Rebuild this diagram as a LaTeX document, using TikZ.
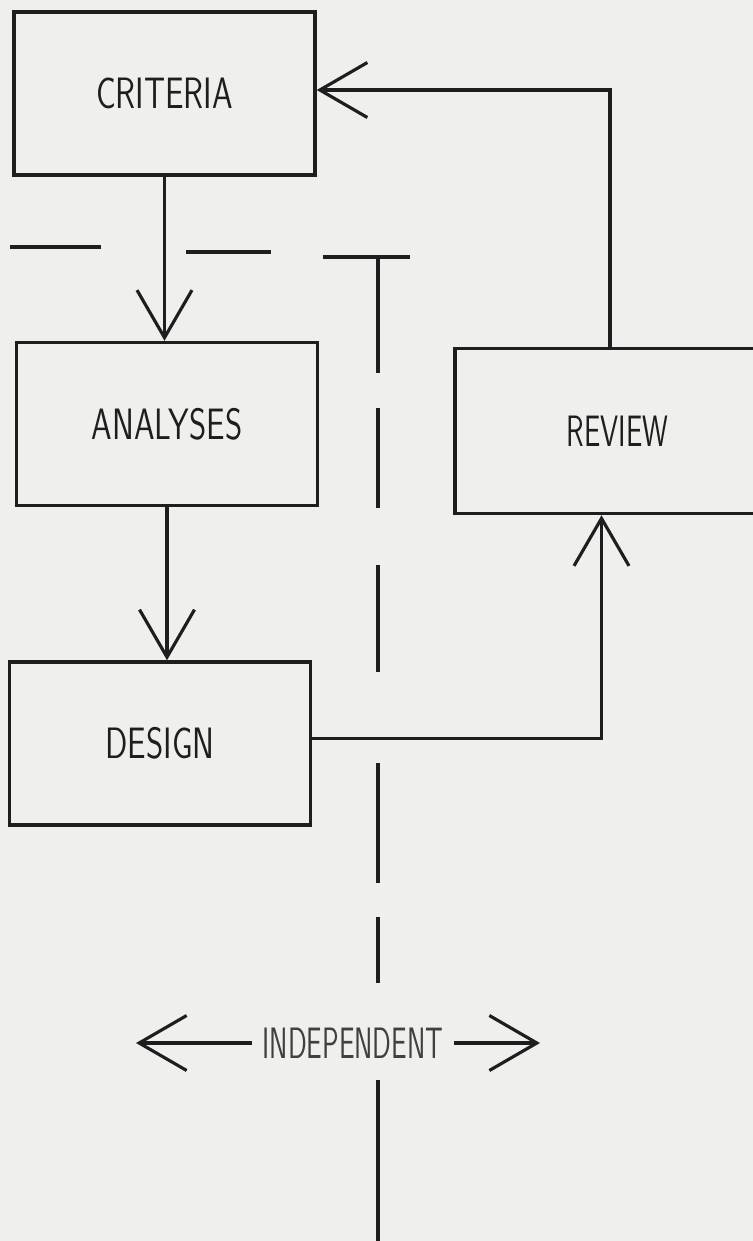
\documentclass[tikz,border=0pt]{standalone}
\usepackage{fontspec}
\usepackage{graphicx}
\usepackage{tikz}
\usetikzlibrary{arrows.meta}
\definecolor{paper}{HTML}{EFEFED}
\definecolor{ink}{HTML}{1E1E1E}
\newcommand{\squeeze}[2][0.75]{\scalebox{#1}[1]{#2}}

\begin{document}
\begin{tikzpicture}[x=0.02cm,y=-0.02cm,
    box/.style={draw=ink,line width=2pt,minimum width=6.02cm,minimum height=3.26cm,inner sep=0pt,
      font=\sffamily\fontsize{25}{28}\selectfont,text=ink},
    vee/.style={-{Straight Barb[length=0.95cm,width=1.1cm]}},
    wire/.style={draw=ink,line width=1.8pt}]
      \clip (0,0) rectangle (753,1241);
      \fill[paper] (0,0) rectangle (753,1241);
      % the four boxes
      \node[box] (criteria) at (164.5,93.5) {\squeeze{CRITERIA}};
      \node[box] (analyses) at (167,424) {\squeeze{ANALYSES}};
      \node[box] (design) at (160,743.5) {\squeeze{DESIGN}};
      \node[box,minimum width=6.5cm,minimum height=3.3cm] (review) at (617.5,431) {\squeeze[0.66]{REVIEW}};
      % flow
      \draw[wire,vee] (criteria.south) -- (criteria.south |- analyses.north);
      \draw[wire,vee] (analyses.south) -- (analyses.south |- design.north);
      \draw[wire,vee] ([yshift=0.1cm]design.east) -| ([xshift=-0.32cm]review.south);
      \draw[wire,vee] ([xshift=-0.15cm]review.north) |- ([yshift=0.07cm]criteria.east);
      % dividing line
      \foreach \xa/\ya/\xb/\yb in {10/247/101/247, 186/252/271/252, 323/257/410/257}
        \draw[wire] (\xa,\ya) -- (\xb,\yb);
      \foreach \ya/\yb in {257/373, 408/508, 565/672, 763/883, 917/983, 1080/1245}
        \draw[wire] (378,\ya) -- (378,\yb);
      % independent
      \node[font=\sffamily\fontsize{25}{28}\selectfont,text=ink!85,inner sep=0.2cm] (indep) at (353,1043) {\squeeze[0.63]{INDEPENDENT}};
      \coordinate (leftend) at (136,1043);
      \coordinate (rightend) at (540,1043);
      \draw[wire,vee] (indep.west) -- (leftend);
      \draw[wire,vee] (indep.east) -- (rightend);
\end{tikzpicture}
\end{document}
